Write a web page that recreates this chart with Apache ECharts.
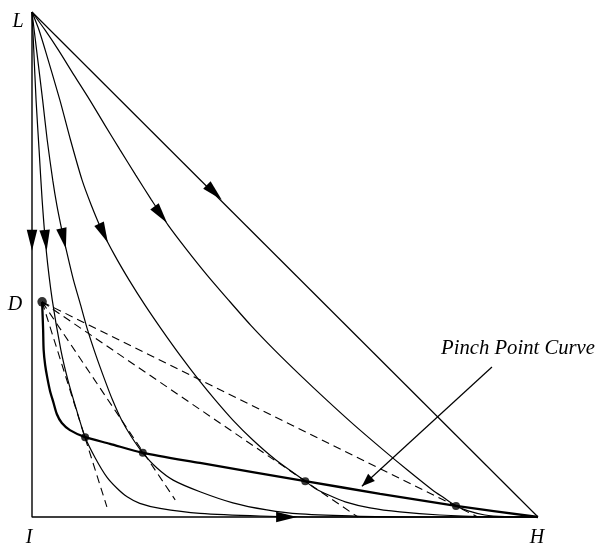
<!DOCTYPE html>
<html>
<head>
<meta charset="utf-8">
<script src="https://cdn.jsdelivr.net/npm/echarts@6/dist/echarts.min.js"></script>
<style>
html,body{margin:0;padding:0;background:#fff;}
#chart{width:599px;height:545px;}
</style>
</head>
<body>
<div id="chart"></div>
<script>
// ---- data (composition-like coordinates, 0..100) ----
const triangleEdges = [[0,100],[0,0],[100,0]];          // L -> I -> H
const diagonal = [[0,100],[100,0]];                      // L -> H
const curveB = [[0,100],[0.35,92.5],[0.8,82.6],[1.4,72.7],[2.0,62.8],[2.8,52.9],[4.0,43.0],[5.7,33.1],[7.1,27.1],[8.8,21.2],[10.5,15.8],[12.5,11.7],[14.8,7.9],[16.8,5.7],[18.8,4.0],[21.3,2.7],[25.3,1.7],[33.2,0.7],[45.1,0.2],[58.9,0],[100,0]];
const curveC = [[0,100],[0.9,92.5],[2.1,82.6],[3.0,74.7],[4.1,66.7],[4.9,61.8],[5.9,56.8],[7.0,51.9],[8.2,46.9],[9.6,42.0],[11.0,37.0],[12.6,32.1],[14.4,27.1],[15.9,23.2],[17.7,19.2],[19.7,15.8],[21.9,12.7],[24.7,9.7],[27.9,7.3],[33.2,5.0],[39.7,2.8],[46.4,1.4],[53.0,0.6],[64.8,0.14],[78.7,0],[100,0]];
const curveD = [[0,100],[1.4,96.4],[2.6,92.5],[5.5,82.6],[7.6,74.7],[9.9,66.7],[11.7,61.8],[13.8,56.8],[16.3,51.9],[19.2,46.9],[22.3,42.0],[25.7,37.0],[29.2,32.1],[33.0,27.1],[36.2,23.2],[39.7,19.2],[43.7,15.2],[48.2,11.3],[54.0,7.1],[55.9,5.7],[58.5,4.4],[61.9,3.0],[66.8,1.8],[72.7,1.0],[80.6,0.4],[90.5,0.06],[100,0]];
const curveE = [[0,100],[2.6,96.4],[5.2,92.5],[8.3,87.5],[11.4,82.6],[14.4,77.6],[17.4,72.7],[20.5,67.7],[23.6,62.8],[26.9,57.8],[30.6,52.9],[34.6,47.9],[38.8,43.0],[43.2,38.0],[47.9,33.1],[53.0,28.1],[58.2,23.2],[63.7,18.2],[69.4,13.3],[74.2,9.3],[79.2,5.3],[81.4,3.8],[83.8,2.2],[86.2,1.2],[89.5,0.4],[93.5,0.1],[100,0]];
const pinchCurve = [[2.0,42.6],[2.2,37.0],[2.3,33.1],[2.6,30.1],[3.0,27.7],[3.6,24.8],[4.2,22.8],[4.9,20.4],[5.9,18.6],[7.5,17.2],[10.5,15.8],[15.4,14.5],[21.9,12.7],[33.2,10.7],[54.0,7.1],[68.8,4.6],[83.8,2.2],[100,0]];
const pointD = [2.0,42.6];
const pinchPoints = [[10.5,15.8],[21.9,12.7],[54.0,7.1],[83.8,2.2]];
const tangentEnds = [[14.8,2.0],[28.3,3.4],[64.4,0],[88.1,0]];
// arrow heads: [tipX, tipY, tailX, tailY]
const flowArrows = [[0,52.7,0,60],[2.9,52.7,2.5,56.8],[6.7,53.1,5.8,57.2],[15.0,54.3,13.1,58.4],[26.7,58.2,24.0,61.8],[37.5,62.8,34.6,65.7],[52.4,0,40.0,0]];
const pointerLine = [[90.9,29.7],[65.2,6.1]];
const pointerHead = [[65.2,6.1,90.9,29.7]];
const vertexLabels = ['L','D','I','H'];
const annotationText = 'Pinch Point Curve';

// ---- chart ----
const chart = echarts.init(document.getElementById('chart'), null, {renderer:'canvas'});
const thin = {color:'#000', width:1.2};
function lineSeries(data, style, extra) {
  return Object.assign({type:'line', data:data, showSymbol:false, symbol:'none', clip:false,
    lineStyle:style, itemStyle:{color:'#000'}, z:2, silent:true}, extra||{});
}
function arrowRenderer(len, wid) {
  return function(params, api) {
    const tip = api.coord([api.value(0), api.value(1)]);
    const tail = api.coord([api.value(2), api.value(3)]);
    let dx = tip[0]-tail[0], dy = tip[1]-tail[1];
    const d = Math.hypot(dx, dy) || 1; dx /= d; dy /= d;
    const bx = tip[0]-dx*len, by = tip[1]-dy*len;
    const px = -dy*wid/2, py = dx*wid/2;
    return {type:'polygon', shape:{points:[tip,[bx+px,by+py],[bx-px,by-py]]}, style:{fill:'#000'}};
  };
}
const series = [
  lineSeries(triangleEdges, {color:'#000', width:1.4}),
  lineSeries(diagonal, thin),
  lineSeries(curveB, thin, {smooth:0.25}),
  lineSeries(curveC, thin, {smooth:0.25}),
  lineSeries(curveD, thin, {smooth:0.25}),
  lineSeries(curveE, thin, {smooth:0.25}),
  lineSeries(pinchCurve, {color:'#000', width:2.3}, {smooth:0.25, z:3})
];
tangentEnds.forEach(function(e){
  series.push(lineSeries([pointD, e], {color:'#000', width:1.1, type:[8,5]}));
});
series.push(lineSeries(pointerLine, thin));
series.push({type:'custom', renderItem:arrowRenderer(21,10.5), data:flowArrows, encode:{x:[0,2], y:[1,3]}, z:5, clip:false, silent:true});
series.push({type:'custom', renderItem:arrowRenderer(13,10), data:pointerHead, encode:{x:[0,2], y:[1,3]}, z:5, clip:false, silent:true});
series.push({type:'scatter', data:pinchPoints, symbolSize:8, itemStyle:{color:'#000'}, z:6, clip:false, silent:true});
series.push({type:'scatter', data:[pointD], symbolSize:9.5, itemStyle:{color:'#000'}, z:6, clip:false, silent:true});

function label(text, x, y, align, size) {
  return {type:'text', x:x, y:y, style:{text:text, font:'italic ' + (size||20) + 'px "Liberation Serif", "DejaVu Serif", serif', fill:'#000', textAlign:align||'center', textVerticalAlign:'bottom'}, silent:true};
}
chart.setOption({
  animation:false,
  backgroundColor:'#fff',
  grid:{left:32, top:12, right:61, bottom:28},
  xAxis:{type:'value', min:0, max:100, show:false},
  yAxis:{type:'value', min:0, max:100, show:false},
  series:series,
  graphic:[
    label(vertexLabels[0], 18, 32),
    label(vertexLabels[1], 15, 315),
    label(vertexLabels[2], 29, 548),
    label(vertexLabels[3], 537, 548),
    label(annotationText, 441, 359, 'left', 20.7)
  ]
});
</script>
</body>
</html>
